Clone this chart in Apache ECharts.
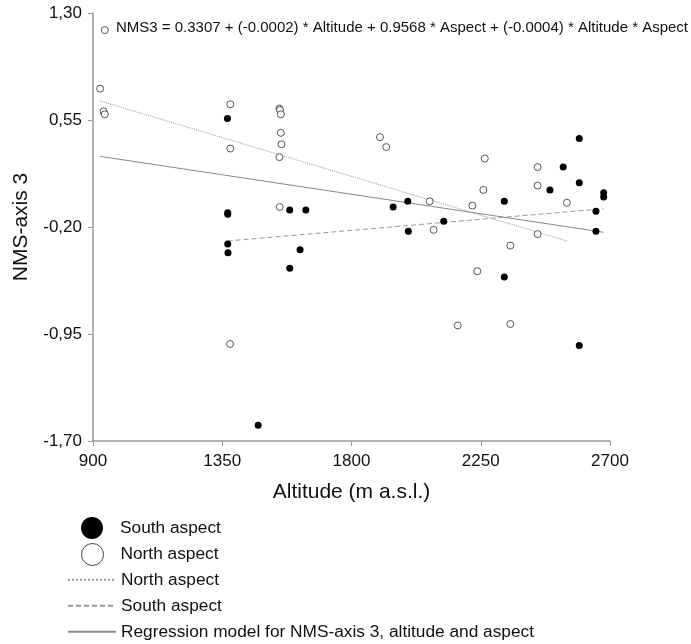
<!DOCTYPE html>
<html>
<head>
<meta charset="utf-8">
<script src="https://cdn.jsdelivr.net/npm/echarts@6/dist/echarts.min.js"></script>
<style>
  html, body { margin: 0; padding: 0; background: #fff; }
  #chart { width: 691px; height: 644px; }
</style>
</head>
<body>
<div id="chart"></div>
<script>
// altitude (m a.s.l.), NMS-axis 3 score
const northPoints = [
  [941, 1.18], [925, 0.77], [937, 0.61], [941, 0.59],
  [1378, 0.66], [1378, 0.35], [1377, -1.02],
  [1549, 0.63], [1551, 0.62], [1554, 0.59], [1554, 0.46], [1556, 0.38], [1549, 0.29], [1550, -0.06],
  [1899, 0.43], [1921, 0.36],
  [2072, -0.02], [2086, -0.22], [2170, -0.89],
  [2221, -0.05], [2238, -0.51], [2259, 0.06], [2264, 0.28],
  [2353, -0.33], [2353, -0.88],
  [2448, 0.22], [2448, 0.09], [2448, -0.25], [2550, -0.03]
]
const southPoints = [
  [1368, 0.56], [1369, -0.10], [1369, -0.11], [1369, -0.32], [1370, -0.38],
  [1475, -1.59], [1585, -0.08], [1585, -0.49], [1621, -0.36], [1641, -0.08],
  [1945, -0.06], [1996, -0.02], [1998, -0.23], [2121, -0.16],
  [2332, -0.02], [2332, -0.55],
  [2491, 0.06], [2537, 0.22], [2593, 0.42], [2593, 0.11], [2593, -1.03],
  [2651, -0.09], [2651, -0.23], [2678, 0.04], [2678, 0.01]
]
// fitted lines (end points)
const northLine = [[925, 0.683], [2550, -0.298]]
const southLine = [[1369, -0.298], [2678, -0.072]]
const modelLine = [[925, 0.295], [2678, -0.237]]

const yTicks = [-1.70, -0.95, -0.20, 0.55, 1.30]
const equation = 'NMS3 = 0.3307 + (-0.0002) * Altitude + 0.9568 * Aspect + (-0.0004) * Altitude * Aspect'
const legendNames = ['South aspect', 'North aspect', 'North aspect ', 'South aspect ',
  'Regression model for NMS-axis 3, altitude and aspect']

const FONT = '"Liberation Sans", Arial, sans-serif'
const chart = echarts.init(document.getElementById('chart'), null, { renderer: 'canvas' })

// one legend block per row so the rows sit at even steps
const legendRows = [517, 543, 571, 597, 623]
const legends = legendNames.map((name, i) => {
  const isMarker = i < 2
  const item = { name: name, itemStyle: { opacity: 0 } }
  if (i === 0) item.itemStyle = { color: '#000', opacity: 1 }
  if (i === 1) item.itemStyle = { color: '#fff', borderColor: '#444', borderWidth: 1, opacity: 1 }
  return {
    orient: 'vertical',
    left: isMarker ? 81 : 67,
    top: legendRows[i],
    padding: 0,
    itemWidth: isMarker ? 22 : 48,
    itemHeight: 22,
    selectedMode: false,
    textStyle: {
      fontSize: 17.3, color: '#111', fontFamily: FONT,
      padding: isMarker ? [0, 0, 0, 12] : 0
    },
    data: [item]
  }
})

const option = {
  animation: false,
  backgroundColor: '#fff',
  textStyle: { fontFamily: FONT },
  title: {
    text: equation,
    left: 111,
    top: 15,
    textStyle: { fontSize: 15, fontWeight: 'normal', color: '#111', fontFamily: FONT }
  },
  grid: { left: 93, right: 81, top: 13, bottom: 203, containLabel: false },
  legend: legends,
  xAxis: {
    type: 'value',
    min: 900,
    max: 2700,
    interval: 450,
    name: 'Altitude (m a.s.l.)',
    nameLocation: 'middle',
    nameGap: 41,
    nameTextStyle: { fontSize: 21, color: '#111' },
    axisLine: { onZero: false, lineStyle: { color: '#999', width: 1.5 } },
    axisTick: { length: 5, lineStyle: { color: '#999' } },
    axisLabel: { fontSize: 17, color: '#111', margin: 12, formatter: v => String(v) },
    splitLine: { show: false }
  },
  yAxis: {
    type: 'value',
    min: -1.70,
    max: 1.30,
    name: 'NMS-axis 3',
    nameLocation: 'middle',
    nameGap: 61,
    nameTextStyle: { fontSize: 21, color: '#111' },
    axisLine: { show: true, onZero: false, lineStyle: { color: '#999', width: 1.5 } },
    axisTick: { show: true, length: 5, customValues: yTicks, lineStyle: { color: '#999' } },
    axisLabel: {
      fontSize: 17, color: '#111', margin: 11,
      customValues: yTicks,
      formatter: v => v.toFixed(2).replace('.', ',')
    },
    splitLine: { show: false }
  },
  series: [
    {
      name: 'South aspect',
      type: 'scatter',
      data: southPoints,
      symbolSize: 7,
      itemStyle: { color: '#000', opacity: 1 },
      z: 5
    },
    {
      name: 'North aspect',
      type: 'scatter',
      data: northPoints,
      symbolSize: 7,
      itemStyle: { color: '#fff', borderColor: '#555', borderWidth: 1, opacity: 1 },
      z: 5
    },
    {
      name: 'North aspect ',
      type: 'line',
      data: northLine,
      symbol: 'none',
      color: '#999',
      lineStyle: { color: '#999', width: 1, type: 'dotted' },
      z: 3
    },
    {
      name: 'South aspect ',
      type: 'line',
      data: southLine,
      symbol: 'none',
      color: '#999',
      lineStyle: { color: '#999', width: 1, type: [5, 3] },
      z: 3
    },
    {
      name: 'Regression model for NMS-axis 3, altitude and aspect',
      type: 'line',
      data: modelLine,
      symbol: 'none',
      color: '#888',
      lineStyle: { color: '#888', width: 1 },
      z: 3
    }
  ]
}

chart.setOption(option)
</script>
</body>
</html>
